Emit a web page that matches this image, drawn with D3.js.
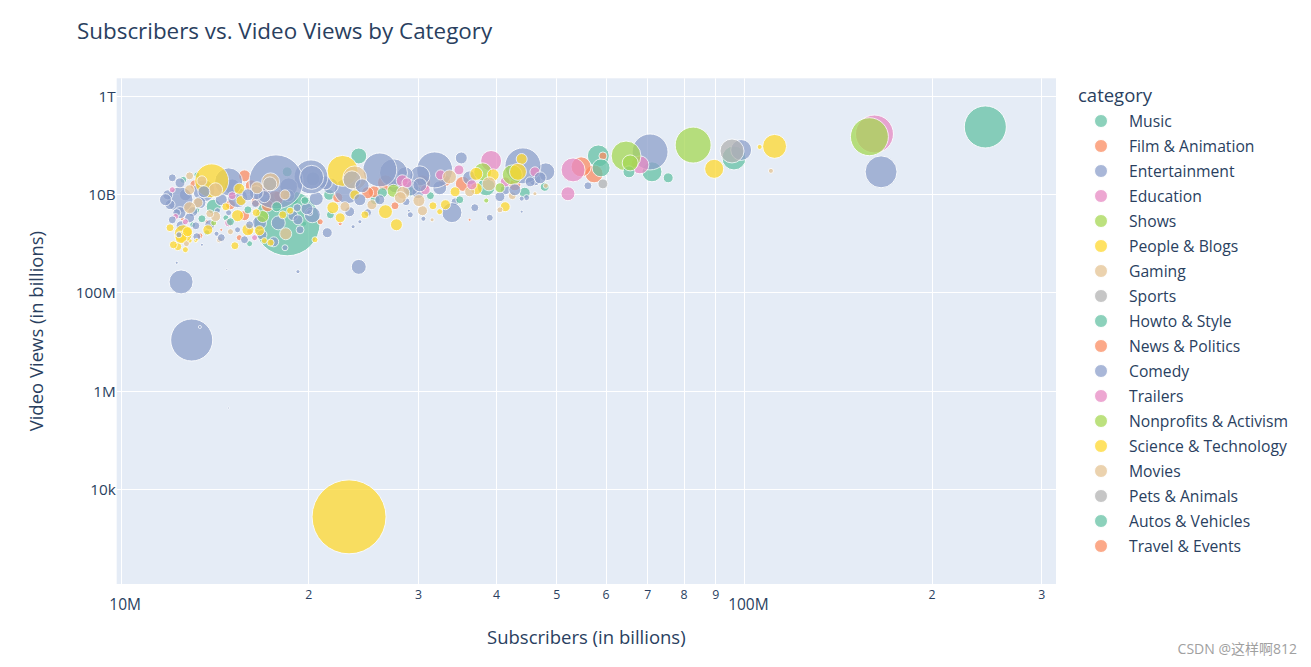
<!DOCTYPE html>
<html><head><meta charset="utf-8">
<script src="https://cdn.jsdelivr.net/npm/d3@7"></script>
<style>
body{margin:0;background:#fff;}
text{font-family:"Open Sans",verdana,arial,sans-serif;fill:#2a3f5f;}
</style>
</head><body>
<svg id="chart" width="1311" height="667"></svg>
<script>
const categories = ["Music","Film & Animation","Entertainment","Education","Shows","People & Blogs","Gaming","Sports","Howto & Style","News & Politics","Comedy","Trailers","Nonprofits & Activism","Science & Technology","Movies","Pets & Animals","Autos & Vehicles","Travel & Events"];
const palette = ["rgb(102,194,165)","rgb(252,141,98)","rgb(141,160,203)","rgb(231,138,195)","rgb(166,216,84)","rgb(255,217,47)","rgb(229,196,148)","rgb(179,179,179)"];

// per-channel values: category index, subscribers (millions), video views (billions), uploads (thousands, bubble size)
const pointCategory = [0,3,4,2,5,5,6,7,2,0,5,4,2,4,3,0,8,8,0,8,1,1,7,2,1,3,3,0,6,2,12,2,4,5,5,10,0,6,10,2,3,4,0,6,5,5,5,3,11,3,1,2,2,5,12,2,17,2,5,13,6,6,2,14,2,3,6,1,10,2,2,3,11,6,2,4,1,1,2,2,0,5,6,7,2,2,10,2,0,2,5,6,5,2,1,2,10,5,2,5,5,0,2,2,2,2,2,10,5,0,6,5,2,5,2,2,2,0,0,2,10,6,2,2,5,1,6,7,1,1,1,5,0,2,0,5,2,0,6,2,2,2,8,10,4,2,2,1,5,0,2,3,10,6,5,5,5,5,5,13,5,13,2,2,10,2,3,1,2,10,8,5,6,2,8,1,9,0,2,10,5,2,5,0,2,2,6,6,2,6,2,2,2,8,2,2,10,2,2,2,10,
  2,1,8,6,10,2,0,3,2,5,1,6,10,2,2,8,1,10,13,2,6,
  2,10,3,5,13,5,6,2,1,8,10,3,1,2,0,6,4,5,2,1,6,3,2,2,1,5,0,
  10,6,2,5,2,0,6,1,
  1,6,10,3,1,2,5,1,2,8,2,10,5,1,
  2,1,10,6,5,2,0,10,
  2,1,10,4,2,6,3];
const subscribersM = [244,162,159,166,112,106,110.5,95.7,99,96.4,89.6,82.9,70.7,64.7,68.1,71.2,75.6,65.4,58.4,59.0,59.4,57.5,59.4,56.2,54.8,53.2,52.2,47.9,48.1,48.1,65.7,44.2,42.5,43.4,44.0,45.4,44.5,46.2,44.0,44.0,39.3,38.1,38.6,39.0,37.2,39.6,37.2,41.4,36.6,34.9,35.4,35.2,40.6,41.4,38.6,39.1,36.3,34.0,33.2,31.7,30.1,30.5,30.6,31.6,31.9,32.6,33.7,30.5,30.2,30.2,28.6,28.3,28.8,28.4,29.2,27.4,26.6,25.5,26.05,27.4,24.1,22.7,23.75,23.5,23.1,20.2,20.25,20.35,21.6,20.6,21.9,22.9,22.5,23.3,22.5,24.2,23.6,24.65,24.9,26.6,27.7,25.6,24.1,21.45,19.25,12.5,13.0,13.4,23.25,18.5,18.4,17.4,17.75,14.0,14.9,12.45,12.45,12.6,13.25,13.6,13.6,14.2,15.1,15.4,15.5,16.2,17.4,17.35,17.7,18.0,16.5,15.6,14.1,13.4,19.0,18.7,18.6,18.5,18.35,18.6,19.2,19.9,19.75,19.25,16.9,17.9,16.85,15.8,15.4,14.75,14.9,14.9,15.4,15.0,15.25,16.7,16.0,12.6,12.5,12.8,12.9,13.25,13.5,12.5,12.4,12.3,12.25,12.55,13.05,13.2,13.5,13.8,14.2,14.3,13.05,13.75,14.5,13.75,13.25,14.25,13.2,17.6,17.0,19.7,20.1,16.7,13.3,12.9,12.45,13.5,16.5,17.0,16.45,17.8,12.3,14.8,14.9,20.3,29.0,28.7,44.8,
  21.7,24.9,26.3,28.1,24.4,27.55,29.15,30.8,32.5,34.4,33.1,36.3,42.9,46.2,41.4,35.0,27.55,29.15,32.5,37.0,40.6,
  12.0,12.1,12.7,12.15,12.7,12.35,13.9,14.5,15.0,16.0,16.1,16.4,15.5,18.35,16.1,14.4,14.1,14.75,12.7,13.15,12.9,12.1,11.9,19.4,20.9,20.5,21.7,
  12.1,12.9,11.8,12.0,12.9,13.2,12.75,13.4,
  15.8,16.55,16.0,15.1,17.2,18.9,18.2,16.1,15.8,15.0,13.9,14.5,16.5,17.0,
  21.3,22.3,24.2,25.3,23.75,30.0,31.4,26.05,
  36.3,42.9,47.1,40.6,34.4,42.5,46.2];
const viewsB = [234,168,148,28.5,94,91.6,29.8,75.8,79.4,54.6,32.8,100,72.4,60,39.5,28.5,21.5,28.5,60,34.3,60,25.9,16.2,14.8,36,31.2,10.2,14.1,14.8,28.5,43.3,37.7,24.7,28.5,52,17.8,10.7,10.2,8.1,4.4,47.5,28.5,14.1,16.2,25.9,24.7,12.9,17.8,15.5,31.2,16.2,54.6,8.9,5.55,7.4,3.3,3.0,4.2,6.1,5.8,7.4,4.6,3.15,3.0,31.2,24.7,22.5,17.0,15.5,23.6,24.7,18.7,17,10.7,13.5,11.7,17.0,11.2,31.2,27.2,60,29.8,21.5,19.6,11.7,22.5,22,20.5,9.7,8.1,5.3,5.55,3.3,4.4,2.5,2.74,2.17,3.8,4.2,4.4,2.38,7.7,0.33,1.64,0.264,0.163,0.0107,0.0197,0.00000267,2.6,1.56,1.03,17.8,18.7,17.8,7.7,17.0,19.6,24.7,11.7,11.2,12.3,14.1,8.5,12.9,14.8,17.8,16.2,8.1,9.3,7.0,7.4,5.55,6.7,7.4,4.6,14.1,28.5,9.7,9.3,5.3,5.05,7.4,3.0,3.5,2.6,1.49,3.65,3.65,3.3,4.2,2.6,1.88,1.72,0.89,1.8,1.88,1.56,1.3,1.72,1.13,1.18,0.93,2.27,1.49,4.2,3.5,3.15,4.4,2.27,3.15,1.88,3.5,4.6,2.38,2.74,1.88,1.64,1.36,1.56,1.13,1.07,1.13,2.5,4.2,2.6,6.7,5.3,4.2,18.7,10.7,8.9,6.4,5.55,0.40,0.29,0.00044,3.8,4.6,7.0,8.5,
  14.8,10.7,10.7,8.5,14.8,14.8,11.2,12.3,13.5,11.2,18.7,11.2,12.3,19.6,12.3,7.7,5.8,3.8,4.4,5.3,4.8,
  6.1,3.0,2.74,0.93,0.74,0.85,4.0,7.7,6.1,4.8,2.38,1.3,1.3,0.81,0.98,1.18,2.6,5.55,9.7,15.5,12.3,12.3,9.7,1.88,2.74,1.18,3.8,
  21.5,23.6,7.7,2.07,3.3,4.8,0.98,1.42,
  23.6,13.5,9.7,9.3,5.8,3.65,3.8,1.72,1.18,2.74,2.38,1.3,4.2,12.3,
  17.0,8.5,7.7,6.1,9.7,10.7,9.3,7.7,
  21.5,15.5,21.5,13.5,7.0,9.3,28.5];
const uploadsK = [97,79,79,56,31.5,1.4,1.4,31.5,24,31.5,20,71,71,49,17.7,22,5.5,7.9,26.5,17.7,3.5,17.7,5.5,3.5,22,31.5,10.7,4.4,1.4,17.7,14,71,22,15.8,6.6,5.5,6.6,0.9,1.4,0.5,24,17.7,17.7,10.7,9.3,7.9,7.9,5.5,5.5,5.5,12.3,7.9,5.5,5.5,1.4,2.7,0.5,22,5.5,3.5,7.9,5.5,1.4,0.9,71,5.5,10.7,14,10.7,22,14,7.9,5.5,9.3,14,9.3,14,7.9,63,43,14,52.6,31.5,17.7,37,63,31.5,10.7,6.6,10.7,7.9,5.5,5.5,5.5,0.9,0.9,0.9,3.5,3.5,10.7,7.9,5.5,12.3,5.5,0.9,31.5,97,0.5,300,238,7.9,2.7,160,63,43,37,5.5,2.7,2.0,26.5,7.9,10.7,14,22,6.6,7.9,17.7,10.7,14,7.9,5.5,5.5,12.3,7.9,3.5,2.7,17.7,5.5,5.5,7.9,3.5,7.9,3.5,5.5,7.9,10.7,5.5,5.5,7.9,2.0,2.0,3.5,2.0,2.0,3.5,5.5,7.9,17.7,7.9,5.5,1.4,0.5,0.5,5.5,2.0,3.5,2.0,0.9,5.5,3.5,3.5,5.5,5.5,2.0,2.0,0.9,0.5,2.0,3.5,1.4,0.9,5.5,2.0,1.4,2.0,10.7,5.5,7.9,7.9,5.5,10.7,7.9,3.5,5.5,0.5,0.22,0.22,14,0.5,3.5,2.0,
  14,7.9,5.5,7.9,10.7,10.7,5.5,5.5,10.7,5.5,7.9,5.5,7.9,7.9,5.5,3.5,3.5,2.0,2.0,3.5,2.0,
  5.5,3.5,2.0,3.5,2.0,3.5,3.5,7.9,5.5,3.5,3.5,2.0,2.0,2.0,2.0,2.0,2.0,3.5,7.9,5.5,5.5,2.0,5.5,3.5,2.0,2.0,3.5,
  3.5,3.5,7.9,3.5,5.5,3.5,2.0,2.0,
  7.9,7.9,7.9,3.5,7.9,5.5,3.5,2.0,3.5,3.5,5.5,3.5,3.5,7.9,
  10.7,5.5,7.9,5.5,5.5,7.9,3.5,5.5,
  10.7,7.9,7.9,5.5,3.5,3.5,5.5];

const xTickValues = [1e7,2e7,3e7,4e7,5e7,6e7,7e7,8e7,9e7,1e8,2e8,3e8];
const xTickLabels = ["10M","2","3","4","5","6","7","8","9","100M","2","3"];
const yTickValues = [1e4,1e6,1e8,1e10,1e12];
const yTickLabels = ["10k","1M","100M","10B","1T"];

const svg = d3.select("#chart");
const L = 116.7, R = 1056, T = 78.3, B = 584;
const FONT = '"Open Sans",verdana,arial,sans-serif';

const x = d3.scaleLog().domain([Math.pow(10,6.9936), Math.pow(10,8.5008)]).range([L, R]);
const y = d3.scaleLog().domain([Math.pow(10,2.059), Math.pow(10,12.36)]).range([B, T]);
const rad = d3.scaleSqrt().domain([0, 300]).range([0, 37]);

svg.append("rect").attr("x", L).attr("y", T).attr("width", R - L).attr("height", B - T).attr("fill", "#E5ECF6");

// gridlines
svg.append("g").selectAll("line").data(xTickValues).join("line")
  .attr("x1", d => Math.round(x(d)) + 0.5).attr("x2", d => Math.round(x(d)) + 0.5)
  .attr("y1", T).attr("y2", B).attr("stroke", "#fff").attr("stroke-width", 1);
svg.append("g").selectAll("line").data(yTickValues).join("line")
  .attr("y1", d => Math.round(y(d)) + 0.5).attr("y2", d => Math.round(y(d)) + 0.5)
  .attr("x1", L).attr("x2", R).attr("stroke", "#fff").attr("stroke-width", 1);

// axes
const xAxis = svg.append("g").attr("transform", `translate(0,${B})`)
  .call(d3.axisBottom(x).tickValues(xTickValues).tickFormat((d, i) => xTickLabels[i]).tickSize(0));
xAxis.select(".domain").remove();
xAxis.selectAll("text")
  .attr("dy", null)
  .attr("y", (d, i) => xTickLabels[i].length > 1 ? 26 : 14.5)
  .attr("x", (d, i) => xTickLabels[i].length > 1 ? 4 : 0)
  .style("font-size", (d, i) => xTickLabels[i].length > 1 ? "15.5px" : "12.3px")
  .style("font-family", FONT)
  .attr("fill", "#2a3f5f");

const yAxis = svg.append("g").attr("transform", `translate(${L - 1},0)`)
  .call(d3.axisLeft(y).tickValues(yTickValues).tickFormat((d, i) => yTickLabels[i]).tickSize(0));
yAxis.select(".domain").remove();
yAxis.selectAll("text")
  .attr("x", 0).attr("dy", "0.36em")
  .style("font-size", "15.3px")
  .style("font-family", FONT)
  .attr("fill", "#2a3f5f");

// bubbles
const pts = subscribersM.map((s, i) => ({ s: s * 1e6, v: viewsB[i] * 1e9, u: uploadsK[i], c: pointCategory[i] }));
const ordered = pts.slice().sort((a, b) => (a.c - b.c) || (b.s - a.s));
svg.append("clipPath").attr("id", "clip").append("rect")
  .attr("x", L).attr("y", T).attr("width", R - L).attr("height", B - T);
svg.append("g").attr("clip-path", "url(#clip)")
  .selectAll("circle").data(ordered).join("circle")
  .attr("cx", d => x(d.s)).attr("cy", d => y(d.v)).attr("r", d => rad(d.u))
  .attr("fill", d => palette[d.c % 8])
  .attr("stroke", "#fff").attr("stroke-width", 1)
  .attr("opacity", 0.75);

// title
svg.append("text").attr("x", 77).attr("y", 39).text("Subscribers vs. Video Views by Category")
  .style("font-size", "22.4px");
// axis titles
svg.append("text").attr("x", (L + R) / 2).attr("y", 644).attr("text-anchor", "middle")
  .text("Subscribers (in billions)").style("font-size", "18.5px");
svg.append("text").attr("transform", `translate(43,${(T + B) / 2}) rotate(-90)`).attr("text-anchor", "middle")
  .text("Video Views (in billions)").style("font-size", "18.5px");

// legend
const lg = svg.append("g");
lg.append("text").attr("x", 1078).attr("y", 102).text("category").style("font-size", "18.5px");
const items = lg.selectAll("g.item").data(categories).join("g").attr("class", "item")
  .attr("transform", (d, i) => `translate(0,${121 + i * 25})`);
items.append("circle").attr("cx", 1101).attr("cy", 0).attr("r", 6.5)
  .attr("fill", (d, i) => palette[i % 8]).attr("opacity", 0.75).attr("stroke", "#fff").attr("stroke-width", 1);
items.append("text").attr("x", 1129).attr("y", 5.5).text(d => d).style("font-size", "15.7px");

// watermark
svg.append("text").attr("x", 1297).attr("y", 654).attr("text-anchor", "end")
  .text("CSDN @这样啊812")
  .style("font-family", '"Open Sans","Noto Sans CJK SC",sans-serif')
  .style("font-size", "14px").style("fill", "#a0a0a0");
</script>
</body></html>
